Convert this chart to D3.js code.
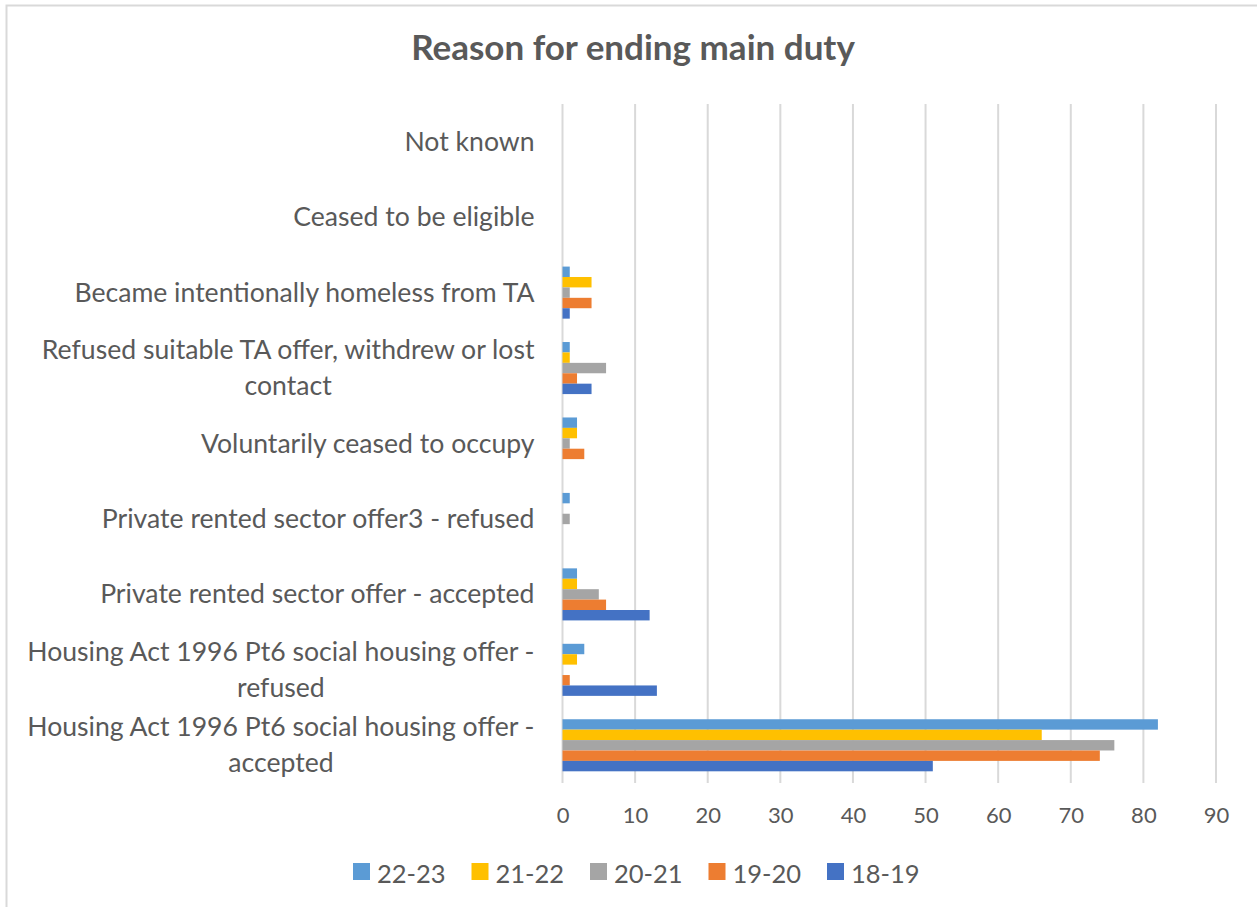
<!DOCTYPE html>
<html>
<head>
<meta charset="utf-8">
<script src="https://cdn.jsdelivr.net/npm/d3@7"></script>
<style>
  body { margin: 0; background: #fff; }
  text { font-family: Lato, "Open Sans", sans-serif; fill: #595959; }
</style>
</head>
<body>
<div id="root"></div>
<script>
const categories = [
  "Not known",
  "Ceased to be eligible",
  "Became intentionally homeless from TA",
  "Refused suitable TA offer, withdrew or lost contact",
  "Voluntarily ceased to occupy",
  "Private rented sector offer3 - refused",
  "Private rented sector offer - accepted",
  "Housing Act 1996 Pt6 social housing offer - refused",
  "Housing Act 1996 Pt6 social housing offer - accepted"
];
const seriesNames = ["22-23", "21-22", "20-21", "19-20", "18-19"];
const seriesColors = ["#5B9BD5", "#FFC000", "#A5A5A5", "#ED7D31", "#4472C4"];
// values per series, same order as categories
const v2223 = [0, 0, 1, 1, 2, 1, 2, 3, 82];
const v2122 = [0, 0, 4, 1, 2, 0, 2, 2, 66];
const v2021 = [0, 0, 1, 6, 1, 1, 5, 0, 76];
const v1920 = [0, 0, 4, 2, 3, 0, 6, 1, 74];
const v1819 = [0, 0, 1, 4, 0, 0, 12, 13, 51];
const seriesValues = [v2223, v2122, v2021, v1920, v1819];
const xTicks = [0, 10, 20, 30, 40, 50, 60, 70, 80, 90];

const width = 1257, height = 907;
const svg = d3.select("#root").append("svg")
  .attr("width", width)
  .attr("height", height);

// chart border
svg.append("rect")
  .attr("x", 6.5).attr("y", 5.5)
  .attr("width", width + 10).attr("height", height + 10)
  .attr("fill", "none")
  .attr("stroke", "#D9D9D9")
  .attr("stroke-width", 2);

svg.append("text")
  .attr("x", 633).attr("y", 51)
  .attr("text-anchor", "middle")
  .attr("dominant-baseline", "middle")
  .attr("font-size", 35)
  .attr("font-weight", "bold")
  .text("Reason for ending main duty");

const x = d3.scaleLinear().domain([0, 90]).range([562.5, 1216]);
const y = d3.scaleBand().domain(categories).range([104, 783])
  .paddingInner(0.31).paddingOuter(0.155);
const ySub = d3.scaleBand().domain(seriesNames).range([0, y.bandwidth()]);

// gridlines
svg.append("g").selectAll("line")
  .data(xTicks)
  .join("line")
  .attr("x1", d => x(d)).attr("x2", d => x(d))
  .attr("y1", 104).attr("y2", 783)
  .attr("stroke", "#D9D9D9")
  .attr("stroke-width", 2);

// bars
const groups = svg.append("g").selectAll("g")
  .data(categories)
  .join("g")
  .attr("transform", d => `translate(0,${y(d)})`);

groups.selectAll("rect")
  .data((c, ci) => seriesNames.map((s, si) => ({ s, si, v: seriesValues[si][ci] })))
  .join("rect")
  .attr("x", x(0))
  .attr("y", d => ySub(d.s))
  .attr("width", d => x(d.v) - x(0))
  .attr("height", ySub.bandwidth())
  .attr("fill", d => seriesColors[d.si]);

// x axis labels
const xAxis = d3.axisBottom(x).tickValues(xTicks).tickSize(0).tickPadding(24);
const xg = svg.append("g").attr("transform", "translate(0,783)").call(xAxis);
xg.select(".domain").remove();
xg.selectAll("text").attr("font-size", 22).attr("font-family", null).attr("fill", "#595959");

// category labels
const yAxis = d3.axisLeft(y).tickSize(0).tickPadding(28);
const yg = svg.append("g").attr("transform", `translate(${x(0)},0)`).call(yAxis);
yg.select(".domain").remove();
yg.selectAll("text")
  .attr("font-size", 26.6)
  .attr("font-family", null)
  .attr("fill", "#595959")
  .call(wrap, 515);

// wrapped labels: block right-aligned, lines centred inside it (like Excel)
function wrap(texts, maxW) {
  texts.each(function () {
    const t = d3.select(this);
    const words = t.text().split(" ");
    t.text(null);
    const lines = [];
    let line = [];
    const probe = t.append("tspan");
    words.forEach(w => {
      line.push(w);
      probe.text(line.join(" "));
      if (probe.node().getComputedTextLength() > maxW && line.length > 1) {
        line.pop();
        lines.push(line.join(" "));
        line = [w];
      }
    });
    lines.push(line.join(" "));
    const widths = lines.map(l => { probe.text(l); return probe.node().getComputedTextLength(); });
    probe.remove();
    const blockW = d3.max(widths);
    const lh = 36;
    const x0 = +t.attr("x");
    const xc = lines.length > 1 ? x0 - blockW / 2 : x0;
    t.attr("text-anchor", lines.length > 1 ? "middle" : "end");
    lines.forEach((l, i) => {
      t.append("tspan")
        .attr("x", xc)
        .attr("dy", i === 0 ? (-(lines.length - 1) * lh / 2) + 9 : lh)
        .text(l);
    });
    t.attr("dy", null);
  });
}

// legend
const legend = svg.append("g").attr("transform", "translate(353,871.5)");
const item = legend.selectAll("g")
  .data(seriesNames)
  .join("g")
  .attr("transform", (d, i) => `translate(${i * 118.5},0)`);
item.append("rect")
  .attr("x", 0).attr("y", -8.5)
  .attr("width", 17).attr("height", 17)
  .attr("fill", (d, i) => seriesColors[i]);
item.append("text")
  .attr("x", 24).attr("y", 1)
  .attr("dominant-baseline", "central")
  .attr("font-size", 25.5)
  .text(d => d);
</script>
</body>
</html>
